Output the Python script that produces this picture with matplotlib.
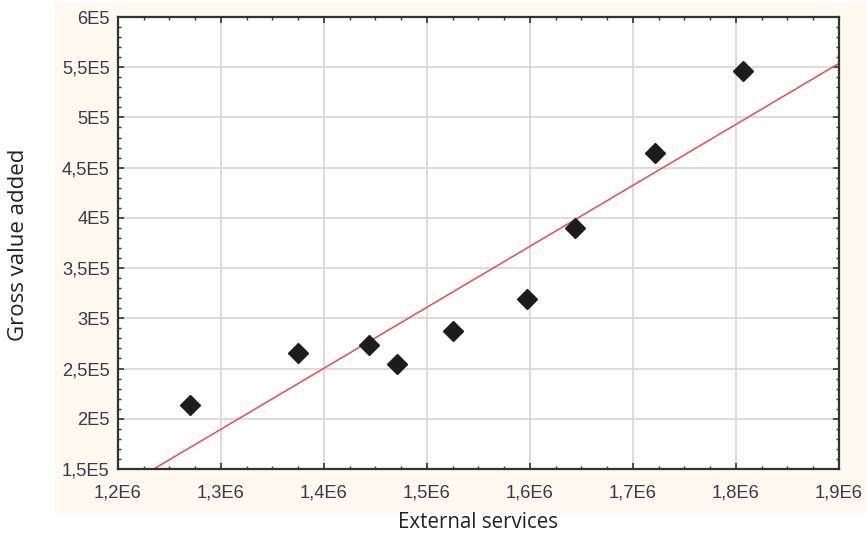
import numpy as np
import matplotlib.pyplot as plt
from matplotlib.patches import Rectangle
from matplotlib.ticker import MultipleLocator

# data
external_services = [1.270e6, 1.375e6, 1.444e6, 1.471e6, 1.525e6, 1.597e6, 1.644e6, 1.721e6, 1.807e6]
gross_value_added = [2.14e5, 2.65e5, 2.73e5, 2.55e5, 2.87e5, 3.19e5, 3.90e5, 4.65e5, 5.46e5]

x_ticks = [1.2e6, 1.3e6, 1.4e6, 1.5e6, 1.6e6, 1.7e6, 1.8e6, 1.9e6]
x_tick_labels = ["1,2E6", "1,3E6", "1,4E6", "1,5E6", "1,6E6", "1,7E6", "1,8E6", "1,9E6"]
y_ticks = [1.5e5, 2e5, 2.5e5, 3e5, 3.5e5, 4e5, 4.5e5, 5e5, 5.5e5, 6e5]
y_tick_labels = ["1,5E5", "2E5", "2,5E5", "3E5", "3,5E5", "4E5", "4,5E5", "5E5", "5,5E5", "6E5"]

fig = plt.figure(figsize=(8.67, 5.35), dpi=100, facecolor="white")

# cream panel behind the plot
fig.add_artist(Rectangle((0.0634, 0.0393), 0.9366, 0.955, transform=fig.transFigure,
                         facecolor="#fdf9f0", edgecolor="none", zorder=-10))

ax = fig.add_axes([0.1361, 0.1234, 0.8316, 0.8448])
ax.set_facecolor("white")

x = np.array(external_services)
y = np.array(gross_value_added)
slope, intercept = np.polyfit(x, y, 1)
xl = np.array([1.2e6, 1.9e6])
ax.plot(xl, slope * xl + intercept, color="#ee4a4a", linewidth=1.1, zorder=2)

ax.plot(x, y, linestyle="none", marker="D", markersize=10, color="#1c1c1c", zorder=3)

ax.set_xlim(1.2e6, 1.9e6)
ax.set_ylim(1.5e5, 6e5)
ax.set_xticks(x_ticks)
ax.set_xticklabels(x_tick_labels)
ax.set_yticks(y_ticks)
ax.set_yticklabels(y_tick_labels)
ax.xaxis.set_minor_locator(MultipleLocator(0.025e6))
ax.yaxis.set_minor_locator(MultipleLocator(0.1e5))

ax.grid(True, which="major", color="#d9d9d9", linewidth=1.3)
ax.set_axisbelow(True)

ax.tick_params(which="both", direction="in", top=True, right=True, color="#333333")
ax.tick_params(which="major", length=4, width=1.2, labelsize=13.2, labelcolor="#3a3a4a", pad=6)
ax.tick_params(axis="x", which="major", pad=11)
ax.tick_params(which="minor", length=2.5, width=1)
for lab in ax.get_xticklabels() + ax.get_yticklabels():
    lab.set_family("Liberation Sans")

for s in ax.spines.values():
    s.set_color("#333333")
    s.set_linewidth(1.6)

fig.text(0.551, 0.024, "External services", ha="center", va="center",
         fontsize=14.8, family="Open Sans", color="#222222")
fig.text(0.021, 0.542, "Gross value added", ha="center", va="center", rotation=90,
         fontsize=16, family="Open Sans", color="#222222")

fig.savefig("out.png", dpi=100)
